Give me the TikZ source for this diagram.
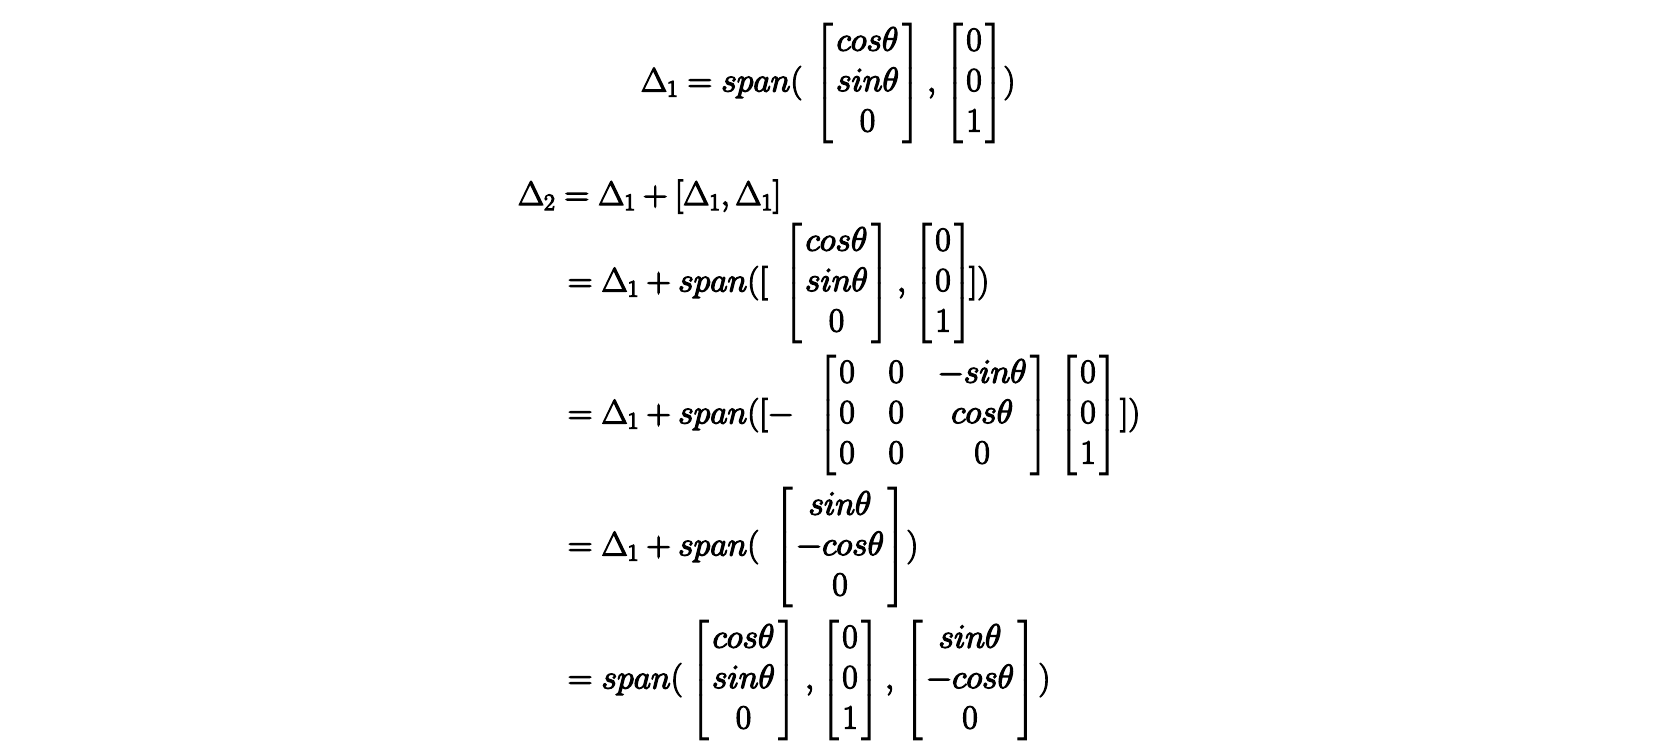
\RequirePackage{fix-cm}
\documentclass[tikz,border=0pt]{standalone}
\usepackage{amsmath}
\newcommand{\eqfont}{\fontsize{33.7}{40.4}\selectfont\setlength{\arraycolsep}{16.85pt}}
\newcommand{\bfy}{\special{pdf:literal direct 2 Tr 1.2 w}}
\tikzset{
  eq/.style={inner sep=0pt, outer sep=0pt, anchor=base west, font=\eqfont, execute at begin node=\bfy},
  mat/.style={eq, anchor=center}
}
\newcommand{\bmx}[1]{\left[\mkern2mu\begin{matrix}#1\end{matrix}\mkern2mu\right]}
\newcommand{\mA}{\bmx{ cos\theta \\ sin\theta \\ 0 }}
\newcommand{\mB}{\bmx{ 0 \\ 0 \\ 1 }}
\newcommand{\mC}{\bmx{ 0 & 0 & -sin\theta \\ 0 & 0 & cos\theta \\ 0 & 0 & 0 }}
\newcommand{\mD}{\bmx{ sin\theta \\ -cos\theta \\ 0 }}
\begin{document}
\begin{tikzpicture}
\useasboundingbox (0,0) rectangle (1666pt,-750pt);
% line 1
\node[eq]  (t1)  at (641pt,-91.5pt) {$\Delta_1 = span($};
\node[mat] (m1a) at (867.5pt,-83pt) {$\mA$};
\node[eq]  (c1)  at (927pt,-91.5pt) {$,$};
\node[mat] (m1b) at (974pt,-83pt) {$\mB$};
\node[eq]  (p1)  at (1003.5pt,-91.5pt) {$)$};
% line 2
\node[eq]  (t2)  at (518pt,-205pt) {$\Delta_2 = \Delta_1 + [\Delta_1, \Delta_1]$};
% line 3
\node[eq]  (t3)  at (568pt,-291.5pt) {$= \Delta_1 + span([$};
\node[mat] (m3a) at (836.5pt,-283pt) {$\mA$};
\node[eq]  (c3)  at (897pt,-291.5pt) {$,$};
\node[mat] (m3b) at (943pt,-283pt) {$\mB$};
\node[eq]  (p3)  at (969pt,-291.5pt) {$])$};
% line 4
\node[eq]  (t4)  at (568pt,-423.5pt) {$= \Delta_1 + span([-$};
\node[mat] (m4a) at (933pt,-415pt) {$\mC$};
\node[mat] (m4b) at (1088pt,-415pt) {$\mB$};
\node[eq]  (p4)  at (1120pt,-423.5pt) {$])$};
% line 5
\node[eq]  (t5)  at (568pt,-555.5pt) {$= \Delta_1 + span($};
\node[mat] (m5)  at (840pt,-547pt) {$\mD$};
\node[eq]  (p5)  at (906.5pt,-555.5pt) {$)$};
% line 6
\node[eq]  (t6)  at (568pt,-688.5pt) {$= span($};
\node[mat] (m6a) at (743.5pt,-680pt) {$\mA$};
\node[eq]  (c6a) at (805pt,-688.5pt) {$,$};
\node[mat] (m6b) at (850pt,-680pt) {$\mB$};
\node[eq]  (c6b) at (885pt,-688.5pt) {$,$};
\node[mat] (m6c) at (970pt,-680pt) {$\mD$};
\node[eq]  (p6)  at (1038.5pt,-688.5pt) {$)$};
\end{tikzpicture}
\end{document}
